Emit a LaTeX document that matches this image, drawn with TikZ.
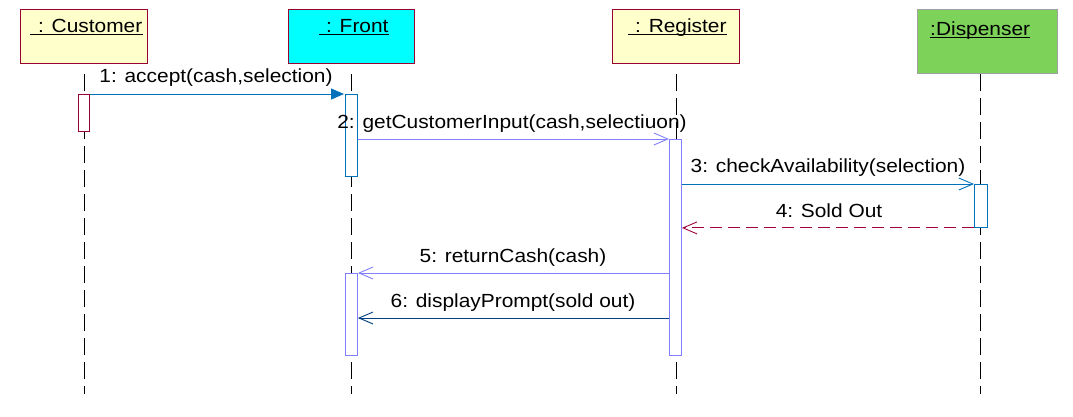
\documentclass[tikz,border=0pt]{standalone}
\usepackage{fontspec}
\setmainfont{Liberation Sans}[FakeStretch=1.1]
\usetikzlibrary{arrows.meta}
\definecolor{dred}{RGB}{153,0,51}
\definecolor{objyellow}{RGB}{255,255,204}
\definecolor{objcyan}{RGB}{0,255,255}
\definecolor{objgreen}{RGB}{125,210,90}
\definecolor{objgray}{RGB}{160,160,160}
\definecolor{mblue}{RGB}{0,114,188}
\definecolor{lpurple}{RGB}{128,128,255}
\definecolor{dblue}{RGB}{0,64,128}
\definecolor{retred}{RGB}{160,0,64}
\begin{document}
\begin{tikzpicture}[x=1pt,y=-1pt,
  font=\fontsize{19}{22}\selectfont,
  objbox/.style={draw=dred, line width=0.9pt, anchor=north west, inner sep=0pt, minimum height=54pt},
  objtext/.style={anchor=base west, inner sep=0pt},
  uline/.style={line width=0.9pt, black},
  life/.style={black, line width=0.9pt, dash pattern=on 17pt off 7pt},
  actbox/.style={draw, fill=white, line width=0.9pt, anchor=north west, inner sep=0pt},
  msglabel/.style={anchor=base, inner sep=0pt},
  openhead/.style={-{Straight Barb[length=14pt,width=12pt]}},
  msg/.style={line width=0.9pt, openhead}
]
\useasboundingbox (0,0) rectangle (1073,416);

% object headers
\node[objbox, fill=objyellow, minimum width=127pt] (cust) at (20,9) {};
\node[objbox, fill=objcyan, minimum width=126pt] (front) at (288,9) {};
\node[objbox, fill=objyellow, minimum width=127pt] (reg) at (612,9) {};
\node[objbox, draw=objgray, fill=objgreen, minimum width=140pt, minimum height=64pt] (disp) at (917,9) {};

\node[objtext] (custT) at (30,32) {\hspace*{8pt}: Customer};
\node[objtext] (frontT) at (319,32) {\hspace*{7pt}: Front};
\node[objtext] (regT) at (628,32) {\hspace*{7pt}: Register};
\node[objtext] (dispT) at (930,35) {:Dispenser};
\foreach \t in {custT,frontT,regT,dispT}
  \draw[uline] ([yshift=-2pt]\t.base west) -- ([yshift=-2pt]\t.base east);

% lifelines
\coordinate (l1a) at (84,74);  \coordinate (l1b) at (84,394);
\coordinate (l2a) at (351,74); \coordinate (l2b) at (351,394);
\coordinate (l3a) at (676,74); \coordinate (l3b) at (676,394);
\coordinate (l4a) at (980,74); \coordinate (l4b) at (980,394);
\draw[life] (l1a) -- (l1b);
\draw[life] (l2a) -- (l2b);
\draw[life] (l3a) -- (l3b);
\draw[life] (l4a) -- (l4b);

% activations
\node[actbox, draw=dred, minimum width=11pt, minimum height=37pt] (ac) at (78,94) {};
\node[actbox, draw=mblue, minimum width=12pt, minimum height=82pt] (af1) at (345,94) {};
\node[actbox, draw=lpurple, minimum width=12pt, minimum height=216pt] (ar) at (669,139) {};
\node[actbox, draw=mblue, minimum width=13pt, minimum height=43pt] (ad) at (974,184) {};
\node[actbox, draw=lpurple, minimum width=12pt, minimum height=82pt] (af2) at (345,273) {};

% messages
\draw[mblue, line width=0.9pt, -{Triangle[length=13pt,width=11pt]}] (ac.north east) -- ([xshift=-1pt]af1.north west);
\node[msglabel] (t1) at (216,82) {1: accept(cash,selection)};

\draw[msg, lpurple] (af1.east |- ar.north) -- (ar.north west);
\node[msglabel] (t2) at (512,128) {2: getCustomerInput(cash,selectiuon)};

\draw[msg, mblue] (ar.east |- ad.north) -- (ad.north west);
\node[msglabel] (t3) at (828,172) {3: checkAvailability(selection)};

\draw[msg, retred, dash pattern=on 12pt off 6pt] (ad.south west) -- (ar.east |- ad.south);
\node[msglabel] (t4) at (829,217) {4: Sold Out};

\draw[msg, lpurple] (ar.west |- af2.north) -- (af2.north east);
\node[msglabel] (t5) at (513,262) {5: returnCash(cash)};

\coordinate (m6y) at (0,318);
\draw[msg, dblue] (ar.west |- m6y) -- (af2.east |- m6y);
\node[msglabel] (t6) at (513,307) {6: displayPrompt(sold out)};
\end{tikzpicture}
\end{document}
